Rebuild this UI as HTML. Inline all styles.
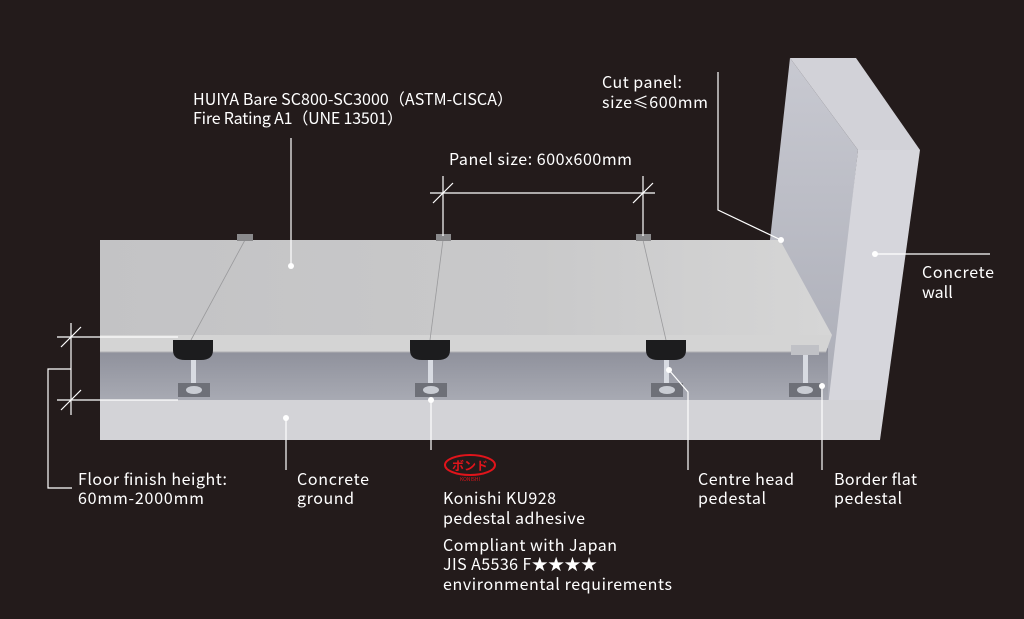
<!DOCTYPE html>
<html><head><meta charset="utf-8"><style>
html,body{margin:0;padding:0;background:#231b1b;}
svg{display:block}
text{font-family:"Noto Sans CJK SC","Liberation Sans",sans-serif;font-size:16px;fill:#fff;}
</style></head><body>
<svg width="1024" height="619" viewBox="0 0 1024 619" xmlns="http://www.w3.org/2000/svg">
<defs>
<linearGradient id="top" x1="0" y1="0" x2="1" y2="0"><stop offset="0" stop-color="#c3c3c5"/><stop offset="0.6" stop-color="#c9c9ca"/><stop offset="1" stop-color="#d6d6d6"/></linearGradient>
<linearGradient id="cav" x1="0" y1="0" x2="0" y2="1"><stop offset="0" stop-color="#8d8f9a"/><stop offset="1" stop-color="#a9abb4"/></linearGradient>
<linearGradient id="wallin" x1="0" y1="0" x2="0" y2="1"><stop offset="0" stop-color="#c8c9d1"/><stop offset="1" stop-color="#a8aab4"/></linearGradient>
</defs>
<rect width="1024" height="619" fill="#231b1b"/>
<polygon points="790,58 856,58 920,150 858,150" fill="#d2d2d8"/>
<polygon points="790,58 858,150 826,440 770,440 770,240" fill="url(#wallin)"/>
<polygon points="858,150 920,150 880,440 824,440" fill="#d6d6dc"/>
<rect x="100" y="348" width="728" height="54" fill="url(#cav)"/>
<rect x="100" y="400" width="780" height="40" fill="#d3d3d7"/>
<polygon points="100,240 780,240 832,335 100,335" fill="url(#top)"/>
<polygon points="100,335 832,335 826,352 100,352" fill="#d4d4d4"/>
<line x1="100" y1="352" x2="826" y2="352" stroke="#b0b0b3" stroke-width="1"/>
<line x1="245" y1="240" x2="191" y2="340" stroke="#9a9a9c" stroke-width="0.8"/>
<line x1="443" y1="240" x2="430" y2="340" stroke="#9a9a9c" stroke-width="0.8"/>
<line x1="643" y1="240" x2="666" y2="340" stroke="#9a9a9c" stroke-width="0.8"/>
<g fill="#8a8a8c"><rect x="237" y="234" width="16" height="7"/><rect x="436" y="234" width="15" height="7"/><rect x="636" y="234" width="15" height="7"/></g>
<g>
<g transform="translate(193,0)">
<path d="M-20,340 h40 v10 q0,10 -12,10 h-16 q-12,0 -12,-10z" fill="#1c1c1e"/>
<rect x="-2" y="360" width="5" height="30" fill="#d8dbe2"/>
<rect x="-15" y="383" width="32" height="14" fill="#6e7078"/>
<ellipse cx="1" cy="390" rx="8" ry="4" fill="#c9ccd3"/>
</g>
<g transform="translate(430,0)">
<path d="M-20,340 h40 v10 q0,10 -12,10 h-16 q-12,0 -12,-10z" fill="#1c1c1e"/>
<rect x="-2" y="360" width="5" height="30" fill="#d8dbe2"/>
<rect x="-15" y="383" width="32" height="14" fill="#6e7078"/>
<ellipse cx="1" cy="390" rx="8" ry="4" fill="#c9ccd3"/>
</g>
<g transform="translate(666,0)">
<path d="M-20,340 h40 v10 q0,10 -12,10 h-16 q-12,0 -12,-10z" fill="#1c1c1e"/>
<rect x="-2" y="360" width="5" height="30" fill="#d8dbe2"/>
<rect x="-15" y="383" width="32" height="14" fill="#6e7078"/>
<ellipse cx="1" cy="390" rx="8" ry="4" fill="#c9ccd3"/>
</g>
<g transform="translate(805,0)">
<rect x="-14" y="345" width="28" height="10" fill="#c0c1c6"/>
<rect x="-2" y="355" width="5" height="35" fill="#d8dbe2"/>
<rect x="-16" y="383" width="32" height="14" fill="#6e7078"/>
<ellipse cx="0" cy="390" rx="8" ry="4" fill="#c9ccd3"/>
</g>
</g>
<g stroke="#fff" stroke-width="1.2" fill="none">
<line x1="291" y1="138" x2="291" y2="266"/>
<line x1="430" y1="193" x2="655" y2="193"/>
<line x1="443" y1="176" x2="443" y2="236"/>
<line x1="643" y1="176" x2="643" y2="236"/>
<line x1="433" y1="203" x2="453" y2="183"/>
<line x1="633" y1="203" x2="653" y2="183"/>
<polyline points="718,72 718,210 781,240"/>
<line x1="875" y1="254" x2="990" y2="254"/>
<line x1="57" y1="337" x2="178" y2="337"/>
<line x1="57" y1="400" x2="178" y2="400"/>
<line x1="71" y1="323" x2="71" y2="415"/>
<line x1="61" y1="347" x2="81" y2="327"/>
<line x1="61" y1="410" x2="81" y2="390"/>
<polyline points="71,369 48,369 48,488 72,488"/>
<line x1="286" y1="418" x2="286" y2="470"/>
<line x1="431" y1="400" x2="431" y2="450"/>
<polyline points="669,370 688,392 688,470"/>
<line x1="822" y1="386" x2="822" y2="470"/>
</g>
<g fill="#fff">
<circle cx="291" cy="266" r="3"/><circle cx="781" cy="240" r="3"/><circle cx="875" cy="254" r="3"/>
<circle cx="286" cy="418" r="3"/><circle cx="431" cy="400" r="3"/><circle cx="669" cy="370" r="3"/><circle cx="822" cy="386" r="3"/>
</g>
<ellipse cx="470" cy="465" rx="25" ry="10" fill="none" stroke="#e0141b" stroke-width="2"/>
<text x="470" y="470" text-anchor="middle" style="font-size:12px;font-weight:bold;fill:#e0141b">ボンド</text>
<text x="470" y="481" text-anchor="middle" style="font-size:5px;fill:#e0141b">KONISHI</text>
<text x="193" y="105" textLength="320">HUIYA Bare SC800-SC3000（ASTM-CISCA）</text>
<text x="193" y="124" textLength="210">Fire Rating A1（UNE 13501）</text>
<text x="449" y="165" textLength="183">Panel size: 600x600mm</text>
<text x="602" y="88" textLength="80">Cut panel:</text>
<text x="602" y="108" textLength="106">size≤600mm</text>
<text x="922" y="278" textLength="72">Concrete</text>
<text x="922" y="298">wall</text>
<text x="78" y="485" textLength="149">Floor finish height:</text>
<text x="78" y="504" textLength="126">60mm-2000mm</text>
<text x="297" y="485" textLength="72">Concrete</text>
<text x="297" y="504" textLength="57">ground</text>
<text x="443" y="504" textLength="113">Konishi KU928</text>
<text x="443" y="524" textLength="142">pedestal adhesive</text>
<text x="443" y="551" textLength="174">Compliant with Japan</text>
<text x="443" y="570" textLength="154">JIS A5536 F★★★★</text>
<text x="443" y="590" textLength="229">environmental requirements</text>
<text x="698" y="485" textLength="96">Centre head</text>
<text x="698" y="504" textLength="68">pedestal</text>
<text x="834" y="485" textLength="83">Border flat</text>
<text x="834" y="504" textLength="68">pedestal</text>
</svg>
</body></html>
